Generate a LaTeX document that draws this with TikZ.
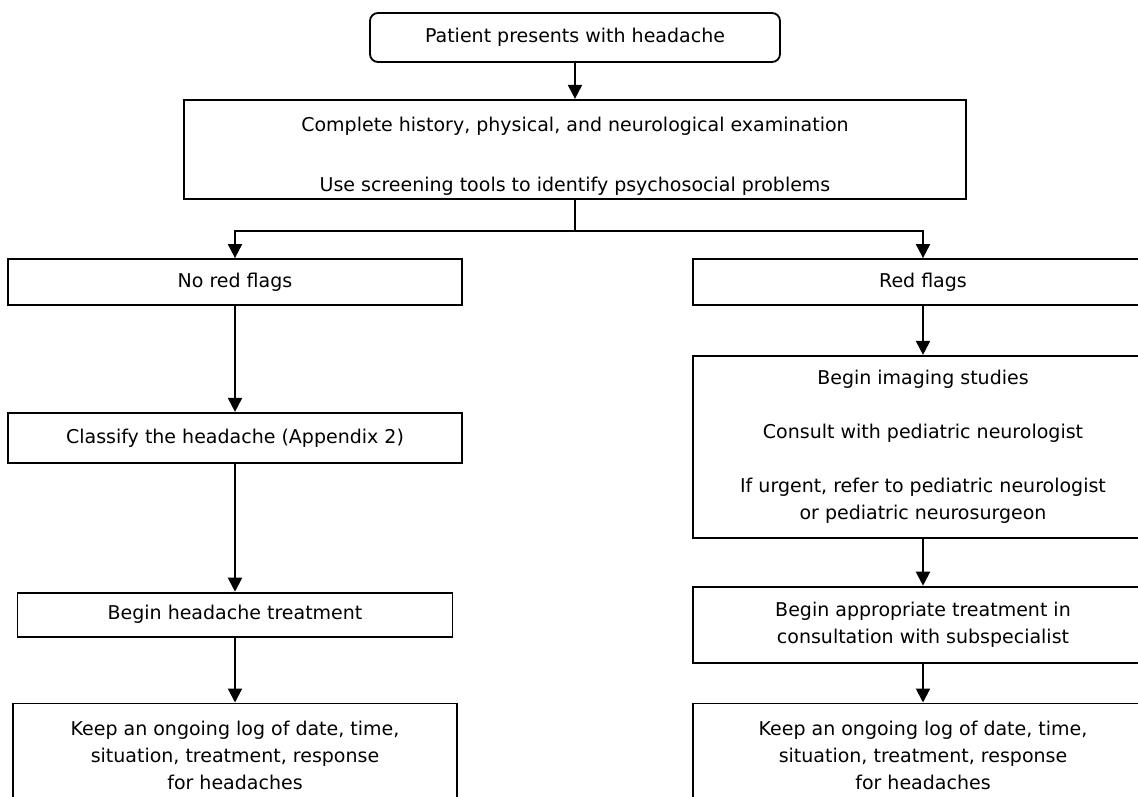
\documentclass[tikz,border=0pt]{standalone}
\usepackage{fontspec}
\setmainfont{DejaVu Sans}
\usepackage{tikz}
\usetikzlibrary{arrows.meta,positioning}

\begin{document}
\begin{tikzpicture}[
    x = 1pt, y = -1pt, % pixel like units, y going down
    > = {Triangle[width=14pt,length=14pt]}, % arrow head style
    line width = 2pt, % line style
    node distance = 36pt
    ]

    \tikzset{box/.style={
    draw = black,
    line width = 1.8pt,
    fill = white,
    align = center,
    inner sep = 0pt,
    font = \fontsize{19}{27}\selectfont
    }}

    \useasboundingbox (0,0) rectangle (1138,796);
    \clip (0,0) rectangle (1138,796);

    \node[box, rounded corners=8pt, minimum width=410pt, minimum height=49pt] (start) at (575,37.5) {Patient presents with headache};
    \node[box, minimum width=782pt, minimum height=99pt] (exam) [below=36pt of start] {\rule{0pt}{28pt}Complete history, physical, and neurological examination\\[33pt]Use screening tools to identify psychosocial problems};
    \coordinate[below=31pt of exam] (fork);

    % left column
    \node[box, minimum width=454pt, minimum height=46pt] (noflags) at (235,282) {No red flags};
    \node[box, minimum width=454pt, minimum height=50pt] (classify) [below=106pt of noflags] {Classify the headache (Appendix 2)};
    \node[box, minimum width=435pt, minimum height=44pt] (treat) [below=128pt of classify] {Begin headache treatment};
    \node[box, minimum width=444pt, minimum height=104pt] (logleft) [below=65pt of treat] {Keep an ongoing log of date, time,\\situation, treatment, response\\for headaches};

    % right column
    \node[box, minimum width=460pt, minimum height=46pt] (flags) at (923,282) {Red flags};
    \node[box, minimum width=460pt, minimum height=182pt] (imaging) [below=49pt of flags] {Begin imaging studies\\[27pt]Consult with pediatric neurologist\\[27pt]If urgent, refer to pediatric neurologist\\or pediatric neurosurgeon};
    \node[box, minimum width=460pt, minimum height=76pt] (consult) [below=47pt of imaging] {Begin appropriate treatment in\\consultation with subspecialist};
    \node[box, minimum width=460pt, minimum height=104pt] (logright) [below=39pt of consult] {Keep an ongoing log of date, time,\\situation, treatment, response\\for headaches};

    \draw[->] (start) -- (exam);
    \draw (exam) -- (fork);
    \draw[->] (fork) -| (noflags);
    \draw[->] (fork) -| (flags);
    \draw[->] (noflags) -- (classify);
    \draw[->] (classify) -- (treat);
    \draw[->] (treat) -- (logleft);
    \draw[->] (flags) -- (imaging);
    \draw[->] (imaging) -- (consult);
    \draw[->] (consult) -- (logright);
\end{tikzpicture}
\end{document}
